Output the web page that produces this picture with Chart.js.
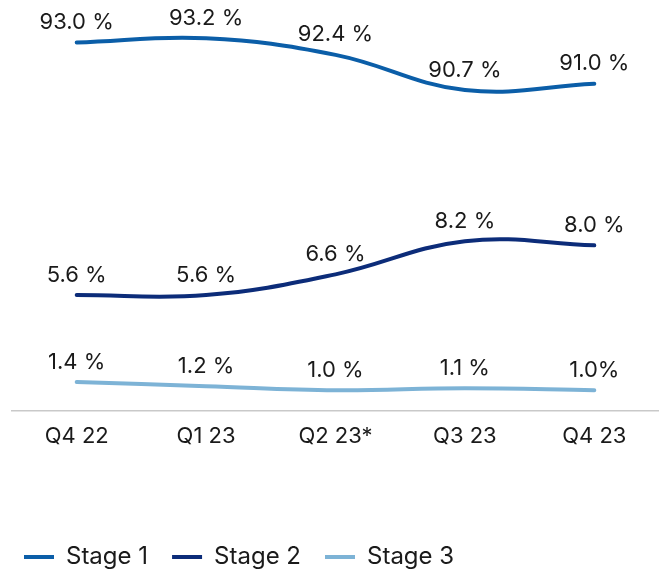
<!DOCTYPE html>
<html>
<head>
<meta charset="utf-8">
<script src="https://cdn.jsdelivr.net/npm/chart.js@4/dist/chart.umd.min.js"></script>
<style>
  html, body { margin: 0; padding: 0; background: #ffffff; }
  #wrap { width: 659px; height: 569px; }
</style>
</head>
<body>
<div id="wrap"><canvas id="c" width="659" height="569"></canvas></div>
<script>
// Quarters on the x axis
const quarters = ['Q4 22', 'Q1 23', 'Q2 23*', 'Q3 23', 'Q4 23'];

// Share of exposure per stage, in percent
const stage1 = [93.0, 93.2, 92.4, 90.7, 91.0];
const stage2 = [5.6, 5.6, 6.6, 8.2, 8.0];
const stage3 = [1.4, 1.2, 1.0, 1.1, 1.0];

// Suffix printed after each value label
const stage1Suffix = [' %', ' %', ' %', ' %', ' %'];
const stage2Suffix = [' %', ' %', ' %', ' %', ' %'];
const stage3Suffix = [' %', ' %', ' %', ' %', '%'];

const FONT = 'Inter, Lato, sans-serif';
const FONT_SIZE = 22;
const TEXT = '#1a1a1a';

// Writes each point's value above it
const valueLabels = {
  id: 'valueLabels',
  afterDatasetsDraw(chart) {
    const ctx = chart.ctx;
    ctx.save();
    ctx.font = FONT_SIZE + 'px ' + FONT;
    ctx.fillStyle = TEXT;
    ctx.textAlign = 'center';
    ctx.textBaseline = 'middle';
    chart.data.datasets.forEach((ds, i) => {
      const meta = chart.getDatasetMeta(i);
      meta.data.forEach((pt, j) => {
        const txt = ds.data[j].toFixed(1) + ds.suffix[j];
        ctx.fillText(txt, pt.x, pt.y - 20);
      });
    });
    ctx.restore();
  }
};

new Chart(document.getElementById('c'), {
  type: 'line',
  data: {
    labels: quarters,
    datasets: [
      { label: 'Stage 1', data: stage1, suffix: stage1Suffix, yAxisID: 'y1',
        borderColor: '#0b5ea8', backgroundColor: '#0b5ea8' },
      { label: 'Stage 2', data: stage2, suffix: stage2Suffix, yAxisID: 'y',
        borderColor: '#0c2c79', backgroundColor: '#0c2c79' },
      { label: 'Stage 3', data: stage3, suffix: stage3Suffix, yAxisID: 'y',
        borderColor: '#7db3d6', backgroundColor: '#7db3d6' }
    ]
  },
  options: {
    responsive: false,
    animation: false,
    layout: { padding: { top: 30, left: 0, right: -3, bottom: -10 } },
    elements: {
      line: { borderWidth: 4, tension: 0.4, borderCapStyle: 'round', fill: false },
      point: { radius: 0, hoverRadius: 0 }
    },
    scales: {
      x: {
        offset: true,
        grid: { display: false, drawTicks: false },
        border: { display: true, color: '#c9c9c9', width: 1.5 },
        ticks: { color: TEXT, font: { family: FONT, size: FONT_SIZE }, padding: 12, maxRotation: 0 },
        afterFit(scale) { scale.height = 110; }
      },
      y: {
        min: 0, max: 18.4,
        grid: { display: false }, border: { display: false }, ticks: { display: false },
        afterFit(scale) { scale.width = 12; }
      },
      y1: { display: false, position: 'right', min: 75.2, max: 93.6 }
    },
    plugins: {
      tooltip: { enabled: false },
      legend: {
        position: 'bottom',
        align: 'start',
        labels: {
          color: TEXT,
          font: { family: FONT, size: 24 },
          boxWidth: 30,
          boxHeight: 4,
          padding: 24,
          generateLabels(chart) {
            return chart.data.datasets.map((ds, i) => ({
              text: ds.label,
              fillStyle: ds.borderColor,
              strokeStyle: ds.borderColor,
              lineWidth: 0,
              fontColor: TEXT,
              hidden: false,
              datasetIndex: i
            }));
          }
        }
      }
    }
  },
  plugins: [valueLabels]
});
</script>
</body>
</html>
